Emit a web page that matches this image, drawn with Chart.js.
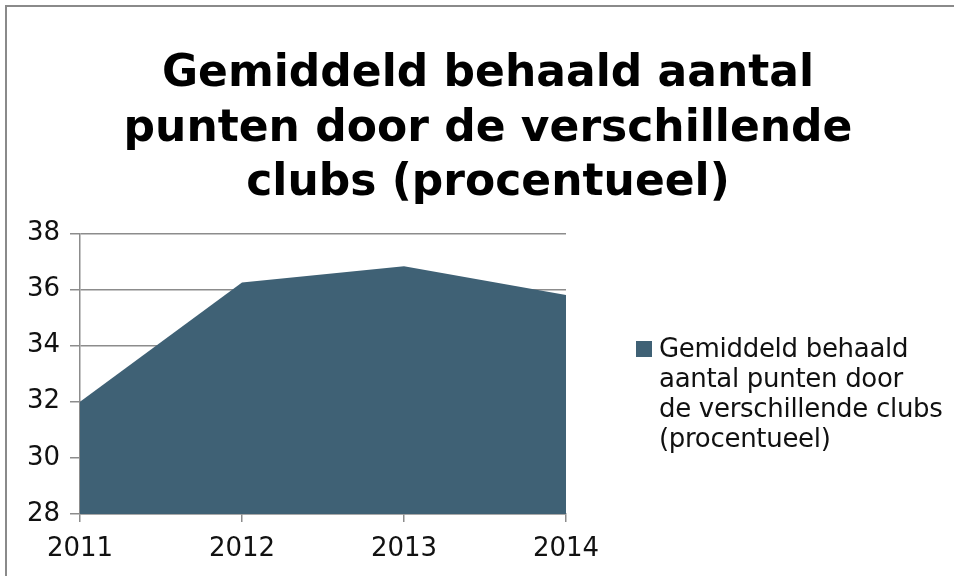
<!DOCTYPE html>
<html>
<head>
<meta charset="utf-8">
<script src="https://cdn.jsdelivr.net/npm/chart.js@4.4.1/dist/chart.umd.min.js"></script>
<style>
  html, body { margin: 0; padding: 0; background: #fff; overflow: hidden; }
  #wrap { position: relative; width: 954px; height: 576px; }
  #frame { position: absolute; left: 5px; top: 5px; right: 0; bottom: 0;
           border-left: 2px solid #8a8a8a; border-top: 2px solid #8a8a8a; pointer-events: none; }
  #legend { position: absolute; left: 636px; top: 333px; font-family: "DejaVu Sans", sans-serif;
            font-size: 26px; line-height: 30px; letter-spacing: -0.3px; color: #111; }
  #legend .box { position: absolute; left: 0; top: 8px; width: 16px; height: 16px; }
  #legend .txt { margin-left: 23px; white-space: nowrap; }
</style>
</head>
<body>
<div id="wrap">
  <canvas id="mycanvas" width="954" height="576"></canvas>
  <div id="frame"></div>
  <div id="legend"></div>
</div>
<script>
// data
var years = ['2011', '2012', '2013', '2014'];
var punten = [32.0, 36.25, 36.83, 35.8];
var serieNaam = 'Gemiddeld behaald aantal punten door de verschillende clubs (procentueel)';
var legendRegels = ['Gemiddeld behaald', 'aantal punten door', 'de verschillende clubs', '(procentueel)'];
var titelRegels = ['Gemiddeld behaald aantal', 'punten door de verschillende', 'clubs (procentueel)'];

var kleur = '#3f6175';
var grijs = '#8c8c8c';

var chartdata = {
  labels: years,
  datasets: [
    {
      label: serieNaam,
      data: punten,
      backgroundColor: kleur,
      borderColor: kleur,
      borderWidth: 0,
      pointRadius: 0,
      fill: 'start',
      tension: 0
    }
  ]
};

var ctx = document.getElementById('mycanvas');
var areaGraph = new Chart(ctx, {
  type: 'line',
  data: chartdata,
  options: {
    responsive: false,
    animation: false,
    layout: { padding: { left: 22, right: 0, top: 0, bottom: 0 } },
    plugins: {
      legend: { display: false },
      tooltip: { enabled: false },
      title: {
        display: true,
        text: titelRegels,
        color: '#000',
        font: { family: 'DejaVu Sans', size: 44, weight: 'bold', lineHeight: 1.23 },
        padding: { top: 48, bottom: 23 }
      }
    },
    scales: {
      x: {
        offset: false,
        grid: { drawOnChartArea: false, drawTicks: true, tickLength: 8, color: grijs, lineWidth: 1.5 },
        border: { color: grijs, width: 1.5 },
        ticks: { color: '#111', padding: 12, maxRotation: 0,
                 font: { family: 'DejaVu Sans', size: 26 } },
        afterFit: function(s) { s.height = 62; }
      },
      y: {
        min: 28,
        max: 38,
        grid: { color: grijs, lineWidth: 1.5, tickLength: 10 },
        border: { color: grijs, width: 1.5 },
        ticks: { stepSize: 2, color: '#111', padding: 10,
                 font: { family: 'DejaVu Sans', size: 26 } },
        afterFit: function(s) { s.width = 58; }
      },
      ruimte: {
        position: 'right',
        display: true,
        grid: { display: false },
        border: { display: false },
        ticks: { display: false },
        afterFit: function(s) { s.width = 388; }
      }
    }
  }
});

// legend next to the chart
var lg = document.getElementById('legend');
var ds = areaGraph.data.datasets[0];
var box = document.createElement('div');
box.className = 'box';
box.style.background = ds.backgroundColor;
lg.appendChild(box);
var txt = document.createElement('div');
txt.className = 'txt';
txt.title = ds.label;
txt.innerHTML = legendRegels.join('<br>');
lg.appendChild(txt);
</script>
</body>
</html>
